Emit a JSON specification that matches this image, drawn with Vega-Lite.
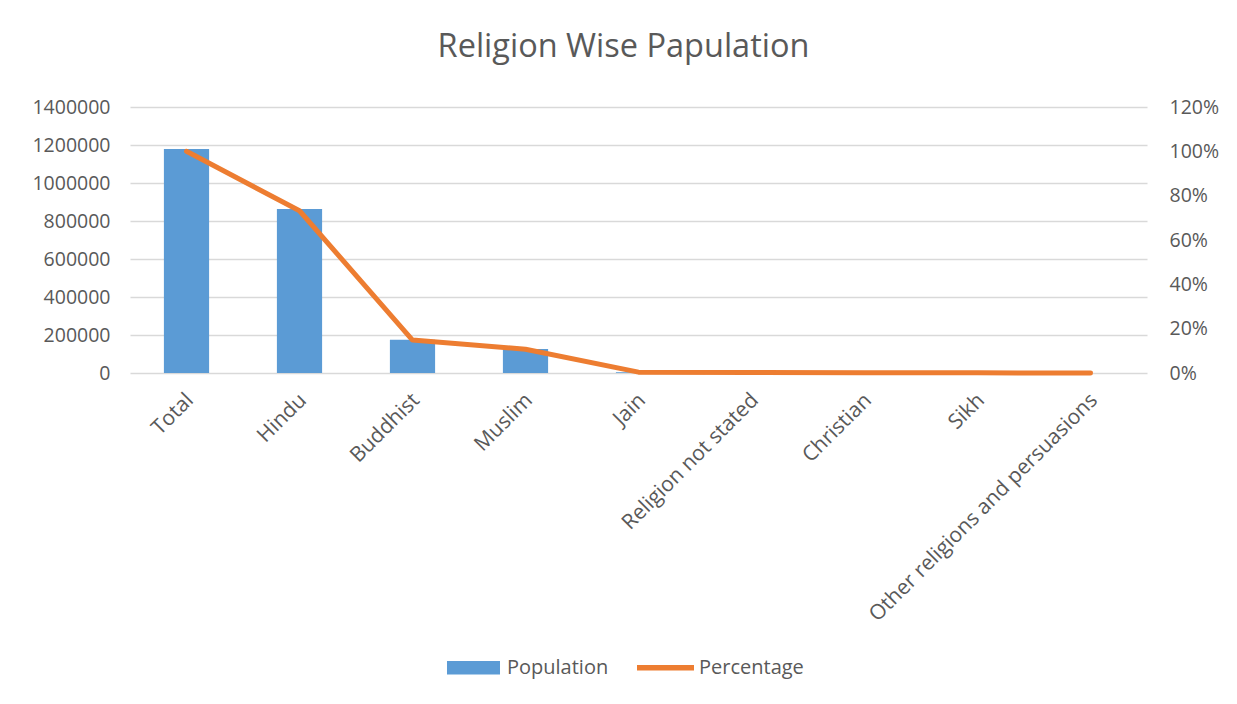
{
  "$schema": "https://vega.github.io/schema/vega-lite/v6.json",
  "width": 1017,
  "height": 266,
  "autosize": "none",
  "padding": {"left": 130, "top": 107, "right": 90, "bottom": 331},
  "background": "white",
  "title": {
    "text": "Religion Wise Papulation",
    "font": "Open Sans",
    "fontSize": 32.5,
    "fontWeight": "normal",
    "color": "#595959",
    "anchor": "middle",
    "dx": -15,
    "offset": 34
  },
  "config": {
    "view": {"stroke": null},
    "axis": {
      "labelFont": "Open Sans",
      "labelFontSize": 19.5,
      "labelColor": "#595959",
      "ticks": false,
      "domain": false,
      "grid": false,
      "title": null
    }
  },
  "data": {
    "values": [
      {"Religion": "Total", "Population": 1179000, "Percentage": 1.0},
      {"Religion": "Hindu", "Population": 863000, "Percentage": 0.732},
      {"Religion": "Buddhist", "Population": 175000, "Percentage": 0.1485},
      {"Religion": "Muslim", "Population": 126000, "Percentage": 0.107},
      {"Religion": "Jain", "Population": 4500, "Percentage": 0.0038},
      {"Religion": "Religion not stated", "Population": 2500, "Percentage": 0.0021},
      {"Religion": "Christian", "Population": 1200, "Percentage": 0.001},
      {"Religion": "Sikh", "Population": 800, "Percentage": 0.0007},
      {"Religion": "Other religions and persuasions", "Population": 300, "Percentage": 0.0003}
    ]
  },
  "encoding": {
    "x": {
      "field": "Religion",
      "type": "nominal",
      "sort": null,
      "scale": {"paddingInner": 0, "paddingOuter": 0},
      "axis": {"labelAngle": -45, "labelPadding": 16, "labelOffset": -4, "labelFontSize": 21, "labelLimit": 400}
    }
  },
  "layer": [
    {
      "mark": {"type": "bar", "width": {"band": 0.4}, "fill": "#5b9bd5"},
      "encoding": {
        "y": {
          "field": "Population",
          "type": "quantitative",
          "scale": {"domain": [0, 1400000], "nice": false},
          "axis": {
            "values": [0, 200000, 400000, 600000, 800000, 1000000, 1200000, 1400000],
            "format": "d",
            "grid": true,
            "gridColor": "#d9d9d9",
            "gridWidth": 1.5,
            "labelPadding": 20
          }
        },
        "color": {
          "datum": "Population",
          "type": "nominal",
          "scale": {"domain": ["Population", "Percentage"], "range": ["#5b9bd5", "#ed7d31"]},
          "legend": {
            "orient": "none",
            "legendX": 315,
            "legendY": 532,
            "direction": "horizontal",
            "title": null,
            "padding": 0,
            "symbolSize": 3249,
            "symbolStrokeWidth": 0,
            "labelFont": "Open Sans",
            "labelFontSize": 20,
            "labelColor": "#595959",
            "labelOffset": 5,
            "columnPadding": 28,
            "encode": {
              "symbols": {
                "update": {
                  "shape": {"signal": "datum.value === 'Population' ? 'M-0.93,-0.24H0.93V0.24H-0.93Z' : 'M-1,-0.1H1V0.1H-1Z'"},
                  "fill": {"signal": "datum.value === 'Population' ? '#5b9bd5' : '#ed7d31'"},
                  "stroke": {"value": "transparent"},
                  "opacity": {"value": 1}
                }
              }
            }
          }
        }
      }
    },
    {
      "mark": {"type": "line", "strokeWidth": 5, "strokeCap": "round", "strokeJoin": "round"},
      "encoding": {
        "y": {
          "field": "Percentage",
          "type": "quantitative",
          "scale": {"domain": [0, 1.2], "nice": false},
          "axis": {
            "orient": "right",
            "values": [0, 0.2, 0.4, 0.6, 0.8, 1.0, 1.2],
            "format": ".0%",
            "labelPadding": 22
          }
        },
        "color": {"datum": "Percentage", "type": "nominal"}
      }
    }
  ],
  "resolve": {"scale": {"y": "independent"}}
}
